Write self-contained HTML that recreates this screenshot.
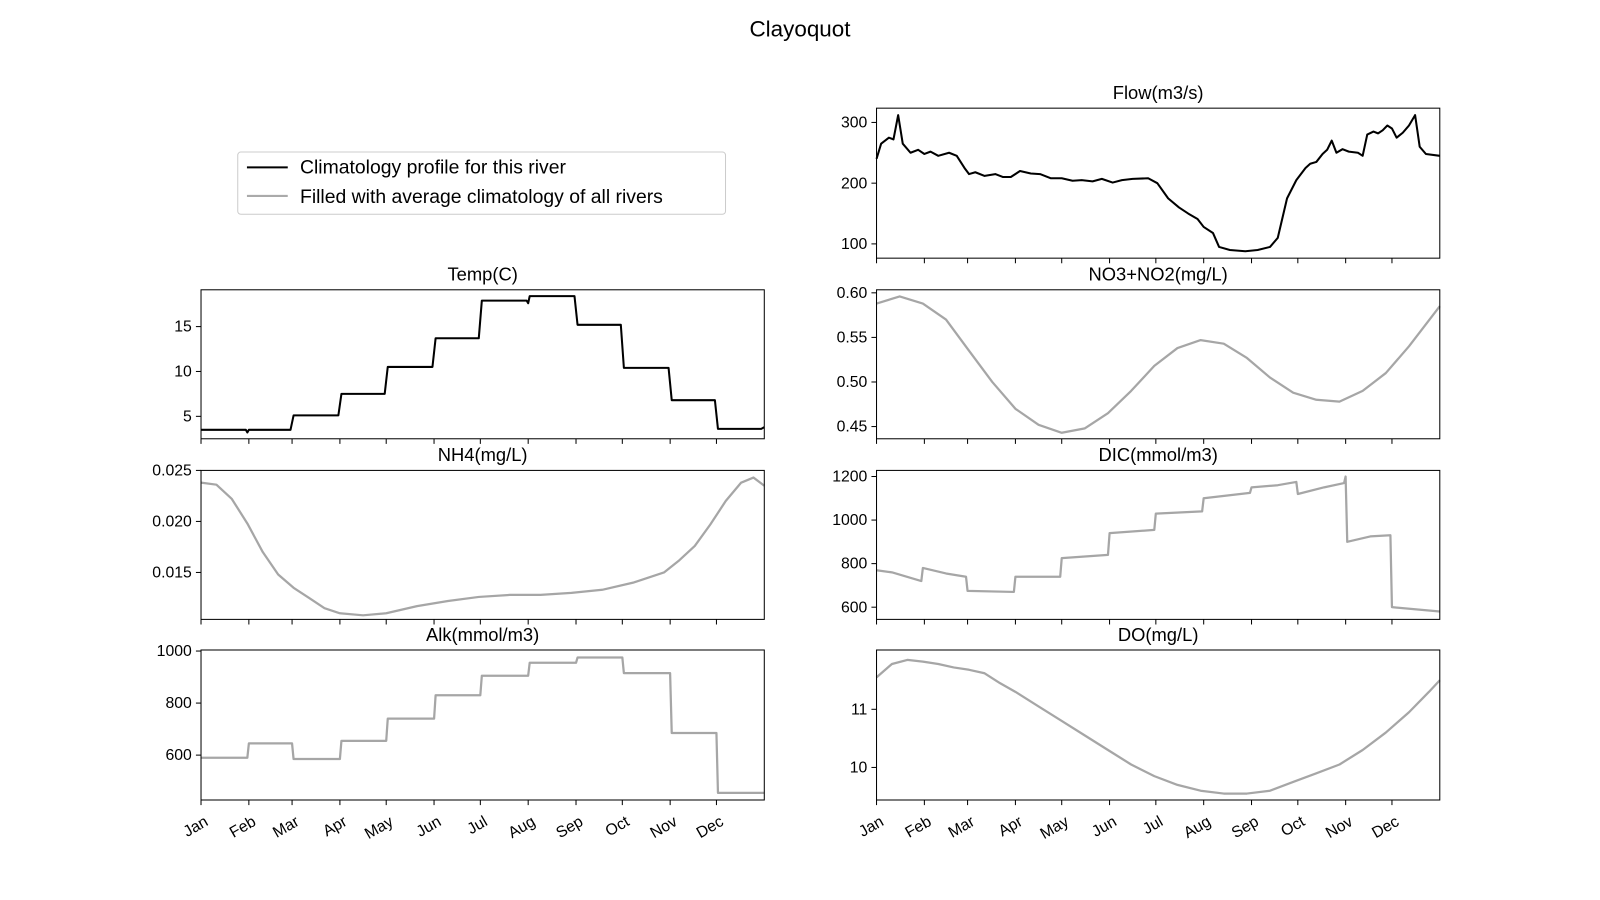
<!DOCTYPE html>
<html><head><meta charset="utf-8"><style>
body{margin:0;background:#fff;}
svg{display:block;font-family:"Liberation Sans","DejaVu Sans",sans-serif;}
</style></head><body>
<svg width="1600" height="900" viewBox="0 0 1600 900">
<g id="fig" transform="scale(1.020408)">
<text x="784" y="36" text-anchor="middle" font-size="22">Clayoquot</text>
<g>
<rect x="233" y="149" width="478" height="61" rx="3" fill="#fff" stroke="#ccc"/>
<line x1="242" y1="164" x2="282" y2="164" stroke="#000" stroke-width="2"/>
<text x="294" y="170" font-size="19">Climatology profile for this river</text>
<line x1="242" y1="192" x2="282" y2="192" stroke="#aaa" stroke-width="2"/>
<text x="294" y="199" font-size="19">Filled with average climatology of all rivers</text>
</g>
</g>
</svg>
<script>
const monthDays=[0,31,59,90,120,151,181,212,243,273,304,334];
const monthLabels=["Jan","Feb","Mar","Apr","May","Jun","Jul","Aug","Sep","Oct","Nov","Dec"];
const flowDays=[0,3,8,11,14,17,22,27,31,35,40,47,52,57,60,64,70,77,82,87,93,100,106,113,120,127,133,140,146,153,159,166,176,182,189,196,202,208,212,218,222,229,239,247,255,260,266,272,278,281,285,289,292,295,298,302,306,312,315,318,322,325,328,331,334,337,341,345,349,352,356,365];
const flowVals=[240,265,275,272,312,265,250,255,248,252,245,250,245,225,215,218,212,215,210,210,220,216,215,208,208,204,205,203,207,201,205,207,208,200,175,160,150,141,128,118,95,90,88,90,95,110,175,205,225,232,235,248,255,270,250,256,252,250,245,280,285,282,287,295,290,275,283,295,312,260,248,245];
const tempDays=[0,29,30,31,58,60,89,91,119,121,150,152,180,182,211,212,213,242,244,272,274,303,305,333,335,363,365];
const tempVals=[3.5,3.5,3.2,3.5,3.5,5.1,5.1,7.5,7.5,10.5,10.5,13.7,13.7,17.9,17.9,17.6,18.4,18.4,15.2,15.2,10.4,10.4,6.8,6.8,3.6,3.6,3.8];
const no3Days=[0,15,30,45,60,75,90,105,120,135,150,165,180,195,210,225,240,255,270,285,300,315,330,345,365];
const no3Vals=[0.588,0.596,0.588,0.57,0.535,0.5,0.47,0.452,0.443,0.448,0.465,0.49,0.518,0.538,0.547,0.543,0.527,0.505,0.488,0.48,0.478,0.49,0.51,0.54,0.585];
const nh4Days=[0,10,20,30,40,50,60,70,80,90,105,120,140,160,180,200,220,240,260,280,300,310,320,330,340,350,358,365];
const nh4Vals=[0.0238,0.0236,0.0222,0.0198,0.017,0.0148,0.0135,0.0125,0.0115,0.011,0.0108,0.011,0.0117,0.0122,0.0126,0.0128,0.0128,0.013,0.0133,0.014,0.015,0.0162,0.0176,0.0197,0.022,0.0238,0.0243,0.0235];
const dicDays=[0,10,29,30,45,58,59,89,90,119,120,150,151,180,181,211,212,242,243,260,272,273,290,303,304,305,320,333,334,365];
const dicVals=[770,760,720,780,755,740,675,670,740,740,825,840,940,955,1030,1040,1100,1125,1150,1160,1175,1120,1150,1170,1200,900,925,930,600,580];
const alkDays=[0,30,31,59,60,90,91,120,121,151,152,181,182,212,213,243,244,273,274,304,305,334,335,365];
const alkVals=[590,590,645,645,585,585,655,655,740,740,830,830,905,905,955,955,975,975,915,915,685,685,455,455];
const doDays=[0,10,20,30,40,50,60,70,80,90,105,120,135,150,165,180,195,210,225,240,255,270,285,300,315,330,345,358,365];
const doVals=[11.55,11.78,11.85,11.82,11.78,11.72,11.68,11.62,11.45,11.3,11.05,10.8,10.55,10.3,10.05,9.85,9.7,9.6,9.55,9.55,9.6,9.75,9.9,10.05,10.3,10.6,10.95,11.3,11.5];
const flowTicks=[100,200,300],tempTicks=[5,10,15],no3Ticks=[0.45,0.5,0.55,0.6],nh4Ticks=[0.015,0.02,0.025],dicTicks=[600,800,1000,1200],alkTicks=[600,800,1000],doTicks=[10,11];
const NS="http://www.w3.org/2000/svg",svg=document.getElementById("fig");
function mk(t,a,p){const e=document.createElementNS(NS,t);for(const k in a)e.setAttribute(k,a[k]);(p||svg).appendChild(e);return e;}
function panel(name,title,x0,y0,y1,ymin,ymax,days,vals,ticks,fmt,color,bottom){
  const x1=x0+552;
  const g=mk("g",{});
  
  
  const sx=d=>x0+d/365*(x1-x0), sy=v=>y1-(v-ymin)/(ymax-ymin)*(y1-y0);
  const t=mk("text",{x:(x0+x1)/2,y:y0-9,"text-anchor":"middle","font-size":"18"},g);t.textContent=title;
  
  
  monthDays.forEach((d,i)=>{const x=sx(d);mk("line",{x1:x,x2:x,y1:y1,y2:y1+5,stroke:"#000"},g);
    if(bottom){const lx=x+8,ly=y1+24;const l=mk("text",{x:lx,y:ly,"text-anchor":"end","font-size":"15.5",transform:`rotate(-30 ${lx} ${ly})`},g);l.textContent=monthLabels[i];
      
      }});
  ticks.forEach(v=>{const y=sy(v);mk("line",{x1:x0-5,x2:x0,y1:y,y2:y,stroke:"#000"},g);
    const l=mk("text",{x:x0-9,y:y+5,"text-anchor":"end","font-size":"15.5"},g);l.textContent=fmt(v);
    
    });
  const pts=days.map((d,i)=>sx(d).toFixed(1)+","+sy(vals[i]).toFixed(1)).join(" ");
  const ln=mk("polyline",{points:pts,fill:"none",stroke:color,"stroke-width":color=="#000"?2:2.2,"stroke-linejoin":"round"},g);
  
  
  mk("rect",{x:x0,y:y0,width:x1-x0,height:y1-y0,fill:"none",stroke:"#000","stroke-width":1},g);
}
const G="#a6a6a6";
panel("flow","Flow(m3/s)",859,106,253,76.5,323.5,flowDays,flowVals,flowTicks,v=>v,"#000",false);
panel("temp","Temp(C)",197,284,430,2.5,19.1,tempDays,tempVals,tempTicks,v=>v,"#000",false);
panel("no3","NO3+NO2(mg/L)",859,284,430,0.4363,0.6034,no3Days,no3Vals,no3Ticks,v=>v.toFixed(2),G,false);
panel("nh4","NH4(mg/L)",197,461,607,0.0104,0.025,nh4Days,nh4Vals,nh4Ticks,v=>v.toFixed(3),G,false);
panel("dic","DIC(mmol/m3)",859,461,607,544,1228,dicDays,dicVals,dicTicks,v=>v,G,false);
panel("alk","Alk(mmol/m3)",197,637,784,427.5,1004,alkDays,alkVals,alkTicks,v=>v,G,true);
panel("do","DO(mg/L)",859,637,784,9.44,12.02,doDays,doVals,doTicks,v=>v,G,true);
</script>
</body></html>
